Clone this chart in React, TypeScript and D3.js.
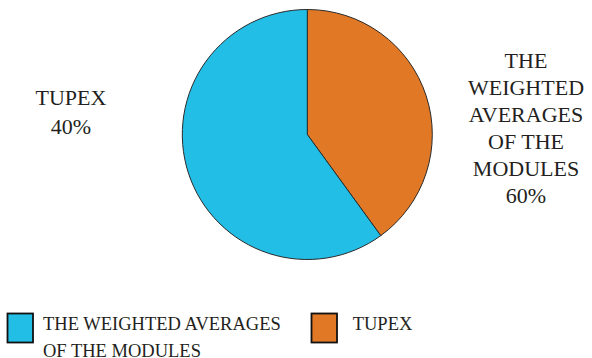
import React from "react";
import { pie as d3pie, arc as d3arc } from "d3";

const categories = ["TUPEX", "THE WEIGHTED AVERAGES OF THE MODULES"];
const values = [40, 60];
const colors = ["#E17826", "#23BEE5"];
const legendLines = [["THE WEIGHTED AVERAGES", "OF THE MODULES"], ["TUPEX"]];
const legendColorIdx = [1, 0];
const leftLabelLines = ["TUPEX", "40%"];
const rightLabelLines = ["THE", "WEIGHTED", "AVERAGES", "OF THE", "MODULES", "60%"];

const W = 592;
const H = 358;
const FONT = "Liberation Serif";

export default function App() {
  const cx = 307.3;
  const cy = 134.5;
  const r = 125;
  const slices = d3pie<number>().sort(null).value((d) => d)(values);
  const arcGen = d3arc<any>().innerRadius(0).outerRadius(r);

  return (
    <svg width={W} height={H} style={{ position: "absolute", left: 0, top: 0 }}>
      <g transform={`translate(${cx},${cy})`}>
        {slices.map((p, i) => (
          <path
            key={categories[i]}
            d={arcGen(p) || ""}
            fill={colors[i]}
            stroke="#2b2b2b"
            strokeWidth={1}
          />
        ))}
      </g>
      {leftLabelLines.map((t, i) => (
        <text key={t} x={71} y={105 + i * 29} fontFamily={FONT} fontSize={22} fill="#231f20" textAnchor="middle">
          {t}
        </text>
      ))}
      {rightLabelLines.map((t, i) => (
        <text key={t} x={526} y={68.3 + i * 27} fontFamily={FONT} fontSize={22} fill="#231f20" textAnchor="middle">
          {t}
        </text>
      ))}
      {legendLines.map((lines, k) => {
        const x = k === 0 ? 7.5 : 311.5;
        const tx = k === 0 ? 43 : 352.7;
        return (
          <g key={k}>
            <rect
              x={x}
              y={313.5}
              width={25.5}
              height={29}
              fill={colors[legendColorIdx[k]]}
              stroke="#111"
              strokeWidth={1.8}
            />
            {lines.map((t, j) => (
              <text key={t} x={tx} y={330 + j * 26.5} fontFamily={FONT} fontSize={18.5} fill="#231f20">
                {t}
              </text>
            ))}
          </g>
        );
      })}
    </svg>
  );
}
